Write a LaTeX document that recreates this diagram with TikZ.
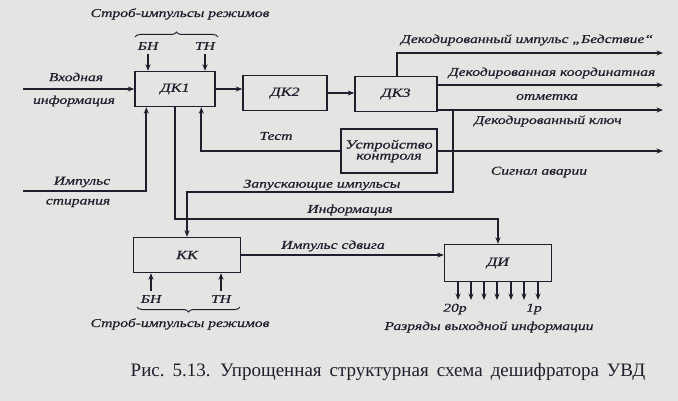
\documentclass[tikz,border=0pt]{standalone}
\usepackage{fontspec}
\setmainfont{Liberation Serif}
\newfontfamily\lblfont{Liberation Serif}[FakeStretch=1.3,FakeBold=0.6]
\usetikzlibrary{arrows.meta,calc,decorations.pathreplacing}
\definecolor{paper}{RGB}{228,229,226}
\definecolor{ink}{RGB}{30,30,45}
\begin{document}
\begin{tikzpicture}[x=1pt,y=-1pt,
	blk/.style={draw=ink, line width=1.4pt, minimum width=#1, minimum height=35pt, inner sep=0pt, align=center, text=ink, font=\lblfont\itshape\fontsize{12.5}{12}\selectfont},
	lbl/.style={text=ink, inner sep=0pt, align=center, font=\lblfont\itshape\fontsize{12}{12}\selectfont},
	wire/.style={draw=ink, line width=2.1pt},
	arr/.style={wire, -{Stealth[length=6.5pt,width=5pt]}},
	brc/.style={draw=ink, line width=1pt, decorate, decoration={brace, amplitude=5pt}}]
		\fill[paper] (0,0) rectangle (678,401);
		\useasboundingbox (0,0) rectangle (678,401);
		
		% blocks
		\node[blk=80] (dk1) at (175,89) {ДК1};
		\node[blk=84] (dk2) at (285,93) {ДК2};
		\node[blk=82] (dk3) at (396,94) {ДК3};
		\node[blk=96, minimum height=44pt] (ctrl) at (389,151) {Устройство\\[-1pt]контроля};
		\node[blk=107] (kk) at (187,255) {КК};
		\node[blk=107, minimum height=37pt] (di) at (498,263) {ДИ};
		
		% strobe pulses to DK1
		\node[lbl] (strob1) at (180,14) {Строб-импульсы режимов};
		\draw[brc] (135,37) -- (218,37);
		\node[lbl] (bn1) at (148,46) {БН};
		\node[lbl] (tn1) at (205,46) {ТН};
		\draw[arr] (bn1.south |- 0,54) -- (bn1.south |- dk1.north);
		\draw[arr] (tn1.south |- 0,54) -- (tn1.south |- dk1.north);
		
		% inputs
		\coordinate (inp) at (23,89);
		\node[lbl] (inp1) at (76,77) {Входная};
		\node[lbl] (inp2) at (74,101) {информация};
		\draw[arr] (inp) -- (dk1.west);
		\coordinate (clr) at (23,191);
		\node[lbl] (clr1) at (82,182) {Импульс};
		\node[lbl] (clr2) at (78,203) {стирания};
		\draw[arr] (clr) -| ($(dk1.south west)+(12,0)$);
		
		\draw[arr] (dk1.east) -- (dk1.east -| dk2.west);
		\draw[arr] (dk2.east) -- (dk2.east -| dk3.west);
		
		% test
		\draw[arr] (ctrl.west) -| ($(dk1.south west)+(67,0)$);
		\node[lbl] (test) at (276,136) {Тест};
		
		% outputs of DK3
		\coordinate (out1) at (663,53);
		\coordinate (out2) at (663,85);
		\coordinate (out3) at (663,110);
		\coordinate (out4) at (663,151);
		\draw[arr] ($(dk3.north west)+(43,0)$) |- (out1);
		\draw[arr] (out2 -| dk3.east) -- (out2);
		\draw[arr] (out3 -| dk3.east) -- (out3);
		\draw[arr] (ctrl.east) -- (out4);
		\node[lbl] (o1) at (527,40) {Декодированный импульс „Бедствие“};
		\node[lbl] (o2) at (552,73) {Декодированная координатная};
		\node[lbl] (o3) at (547,97) {отметка};
		\node[lbl] (o4) at (548,121) {Декодированный ключ};
		\node[lbl] (o5) at (539,172) {Сигнал аварии};
		
		% start pulses and information
		\coordinate (zap) at (453,192);
		\draw[arr] (zap |- out3) -- (zap) -| (kk.north);
		\node[lbl] (zap1) at (322,185) {Запускающие импульсы};
		\coordinate (inf) at (175,219);
		\draw[arr] (dk1.south) -- (inf) -| (di.north);
		\node[lbl] (inf1) at (350,210) {Информация};
		\draw[arr] (kk.east) -- (kk.east -| di.west);
		\node[lbl] (shift) at (333,246) {Импульс сдвига};
		
		% strobe pulses to KK
		\node[lbl] (bn2) at (151,299) {БН};
		\node[lbl] (tn2) at (221,299) {ТН};
		\draw[arr] (bn2.north |- 0,291) -- (bn2.north |- kk.south);
		\draw[arr] (tn2.north |- 0,291) -- (tn2.north |- kk.south);
		\draw[brc] (240,307) -- (137,307);
		\node[lbl] (strob2) at (180,324) {Строб-импульсы режимов};
		
		% output bits
		\foreach \x [count=\i] in {458,471,484,497,511,524,538}{
			\coordinate (b\i) at (\x,300);
			\draw[arr] (b\i |- di.south) -- (b\i);
		}
		\node[lbl] (bit20) at (455,309) {20р};
		\node[lbl] (bit1) at (534,309) {1р};
		\node[lbl] (bits) at (489,327) {Разряды выходной информации};
		
		\node[text=ink, font=\fontsize{19}{20}\selectfont] (cap) at (388,372) {\spaceskip=8pt plus 1pt\relax Рис.\ 5.13. Упрощенная структурная схема дешифратора УВД};
\end{tikzpicture}
\end{document}
